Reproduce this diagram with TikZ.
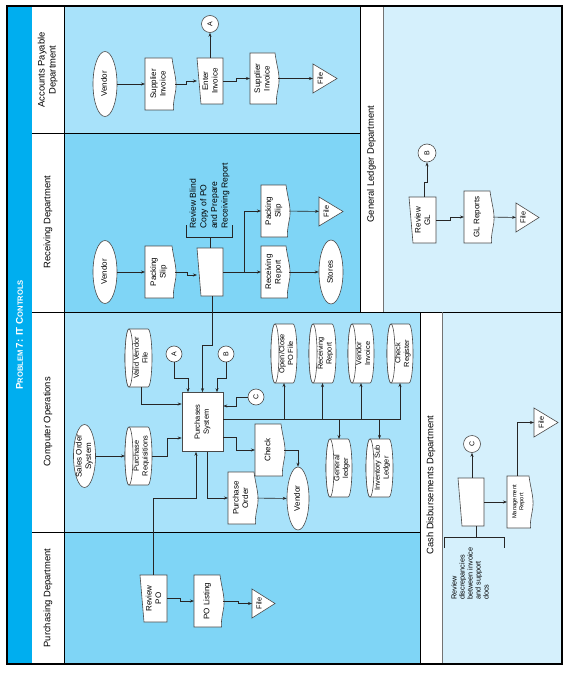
\documentclass[tikz,border=0pt]{standalone}
\usepackage{fontspec}
\setmainfont{Liberation Sans}
\usetikzlibrary{arrows.meta,calc,shapes.geometric}
\definecolor{laneA}{HTML}{A8E2FA}
\definecolor{laneB}{HTML}{7FD5F6}
\definecolor{laneC}{HTML}{D5F0FC}
\definecolor{titleC}{HTML}{00AEEF}
\definecolor{lnC}{HTML}{262626}
\definecolor{shpC}{HTML}{4A4A4A}
\newcommand\rt[1]{\rotatebox{90}{\begin{tabular}{@{}c@{}}#1\end{tabular}}}
\tikzset{
 ln/.style={draw=lnC, line width=0.6pt},
 arr/.style={ln, -{Stealth[length=4pt,width=3pt]}},
 shp/.style={draw=shpC, fill=white, line width=0.6pt},
 box/.style={rectangle, inner sep=0pt, outer sep=0pt},
 txt/.style={inner sep=0pt, font=\fontsize{8}{9.5}\selectfont, text=black},
 lanetxt/.style={inner sep=0pt, font=\fontsize{9.4}{11}\selectfont, text=black},
 border/.style={draw=black, line width=0.8pt},
 softborder/.style={draw=black!55, line width=0.8pt},
}
% [text opts]{name}{cx}{cy}{w}{h}{text}
\newcommand\ShDoc[7][]{%
 \pgfmathsetmacro\Xa{#3-#5/2}\pgfmathsetmacro\Xb{#3+#5/2}%
 \pgfmathsetmacro\Ya{#4-#6/2}\pgfmathsetmacro\Yb{#4+#6/2}%
 \path[shp] (\Xa,\Ya) -- ({\Xb-3},\Ya) .. controls ({\Xb-1},{\Ya+0.3*#6}) and ({\Xb+3},{\Ya+0.45*#6}) .. (\Xb,{\Ya+0.7*#6}) .. controls ({\Xb-1.5},{\Ya+0.85*#6}) and ({\Xb-2},{\Ya+0.95*#6}) .. ({\Xb-1.5},\Yb) -- (\Xa,\Yb) -- cycle;
 \node[box,minimum width=#5,minimum height=#6] (#2) at (#3,#4) {};
 \node[txt,#1] at ({#3-1},#4) {\rt{#7}};}
\newcommand\ShMan[7][]{%
 \pgfmathsetmacro\Xa{#3-#5/2}\pgfmathsetmacro\Xb{#3+#5/2}%
 \pgfmathsetmacro\Ya{#4-#6/2}\pgfmathsetmacro\Yb{#4+#6/2}%
 \path[shp] (\Xa,\Ya) -- (\Xb,\Ya) -- (\Xb,\Yb) -- ({\Xa+4},\Yb) -- cycle;
 \node[box,minimum width=#5,minimum height=#6] (#2) at (#3,#4) {};
 \node[txt,#1] at ({#3+1},#4) {\rt{#7}};}
\newcommand\ShCyl[7][]{%
 \pgfmathsetmacro\Xa{#3-#5/2}\pgfmathsetmacro\Xb{#3+#5/2}%
 \pgfmathsetmacro\Ya{#4-#6/2}\pgfmathsetmacro\Yb{#4+#6/2}%
 \pgfmathsetmacro\Rr{#6/2}%
 \path[shp] ({\Xa+4},\Ya) -- ({\Xb-4},\Ya) arc[start angle=-90,end angle=90,x radius=4,y radius=\Rr] -- ({\Xa+4},\Yb) arc[start angle=90,end angle=270,x radius=4,y radius=\Rr] -- cycle;
 \path[shp] ({\Xa+4},#4) ellipse[x radius=4,y radius=\Rr];
 \node[box,minimum width=#5,minimum height=#6] (#2) at (#3,#4) {};
 \node[txt,font=\fontsize{7.4}{8.6}\selectfont,#1] at ({#3+3},#4) {\rt{#7}};}
\newcommand\ShFile[5]{%
 \pgfmathsetmacro\Xa{#2-#4/2}\pgfmathsetmacro\Xb{#2+#4/2}%
 \pgfmathsetmacro\Ya{#3-#5/2}\pgfmathsetmacro\Yb{#3+#5/2}%
 \path[shp] (\Xa,\Ya) -- (\Xb,#3) -- (\Xa,\Yb) -- cycle;
 \node[box,minimum width=#4,minimum height=#5] (#1) at (#2,#3) {};
 \node[txt,font=\fontsize{7.3}{8}\selectfont] at ({\Xa+#4*0.3},#3) {\rotatebox{90}{File}};}
\newcommand\ShEll[7][]{%
 \node[ellipse,shp,inner sep=0pt,minimum width=#5,minimum height=#6] (#2) at (#3,#4) {};
 \node[txt,#1] at (#3,#4) {\rt{#7}};}
\newcommand\ShCirc[5]{%
 \node[circle,shp,inner sep=0pt,minimum size=#4] (#1) at (#2,#3) {};
 \node[txt,font=\fontsize{7}{8}\selectfont] at (#2,#3) {\rotatebox{90}{#5}};}
\begin{document}
\begin{tikzpicture}[x=1pt,y=-1pt]
\fill[white] (0,0) rectangle (568,674);
\useasboundingbox (0,0) rectangle (568,674);
% lanes
\fill[titleC] (7,6) rectangle (32,664);
\fill[white] (32,6) rectangle (64,664);
\fill[laneA] (64,6) rectangle (360,133);
\fill[laneB] (64,133) rectangle (360,312);
\fill[laneA] (64,312) rectangle (420,532);
\fill[laneB] (64,532) rectangle (420,664);
\fill[white] (360,6) rectangle (383,312);
\fill[laneC] (383,6) rectangle (562,312);
\fill[white] (420,312) rectangle (442,664);
\fill[laneC] (442,312) rectangle (562,664);
\draw[border] (32,133) -- (360,133);
\draw[border] (32,312) -- (562,312);
\draw[border] (32,532) -- (420,532);
\draw[border] (64,6) -- (64,664);
\draw[border] (360,6) -- (360,312);
\draw[softborder] (383,6) -- (383,312);
\draw[border] (420,312) -- (420,664);
\draw[softborder] (442,312) -- (442,664);
% lane titles
\node[inner sep=0pt,text=white,font=\bfseries] at (19.5,335) {\rotatebox{90}{\fontsize{9.8}{10}\selectfont P\fontsize{7.6}{8}\selectfont ROBLEM \fontsize{9.8}{10}\selectfont 7: IT C\fontsize{7.6}{8}\selectfont ONTROLS}};
\node[lanetxt] at (48,70) {\rt{Accounts Payable\\Department}};
\node[lanetxt] at (48,222) {\rotatebox{90}{Receiving Department}};
\node[lanetxt] at (48,422) {\rotatebox{90}{Computer Operations}};
\node[lanetxt] at (48,598) {\rotatebox{90}{Purchasing Department}};
\node[lanetxt] at (371.5,164) {\rotatebox{90}{General Ledger Department}};
\node[lanetxt] at (431,485) {\rotatebox{90}{Cash Disbursements Department}};
% ---- Accounts Payable
\ShEll{vendA}{105}{84}{24}{65}{Vendor}
\ShDoc{supA}{160}{84}{30}{52}{Supplier\\Invoice}
\ShMan{enter}{210}{81}{26}{46}{Enter\\Invoice}
\ShCirc{cA}{210}{24}{17}{A}
\ShDoc{supA2}{264}{78.5}{28}{51}{Supplier\\Invoice}
\ShFile{fileA}{325}{78.5}{24}{29}
% ---- Receiving
\ShEll{vendR}{105}{272}{24}{63}{Vendor}
\ShDoc{packR}{160}{272}{30}{52}{Packing\\Slip}
\ShMan{recvop}{210}{272}{26}{48}{}
\node[txt,font=\fontsize{8.6}{10.6}\selectfont,rotate=90,anchor=west,align=left] (annR) at (209.5,229) {Review Blind\\Copy of PO\\and Prepare\\Receiving Report};
\coordinate (brR) at (210,237);
\ShDoc{packR2}{275}{211}{28}{52}{Packing\\Slip}
\ShDoc{recRep}{275}{272}{28}{52}{Receiving\\Report}
\ShFile{fileR}{331}{211.5}{24}{29}
\ShEll{stores}{331}{272}{24}{64}{Stores}
% ---- Computer Operations
\ShEll{salesOrd}{84.5}{456}{22}{63}{Sales Order\\System}
\ShCyl{pr}{138.5}{456}{27}{58}{Purchase\\Requisitions}
\ShCyl{vvf}{138.5}{358}{27}{58}{Valid Vendor\\File}
\ShCirc{cA2}{174}{354}{16}{A}
\ShCirc{cB}{226}{354}{16}{B}
\node[rectangle,shp,inner sep=0pt,minimum width=41,minimum height=59] (ps) at (202.5,422) {};
\node[txt,font=\fontsize{7.5}{9}\selectfont] at (202.5,422) {\rt{Purchases\\System}};
\ShDoc{po}{242.5}{498}{29}{52}{Purchase\\Order}
\ShDoc{check}{269.5}{450}{29}{52}{Check}
\ShEll{vend2}{298}{498.5}{22}{63}{Vendor}
\ShCirc{cC}{256}{397}{16}{C}
\ShCyl{opc}{284}{353.5}{26}{59}{Open/Close\\PO File}
\ShCyl{rrc}{322.5}{353.5}{27}{59}{Receiving\\Report}
\ShCyl{vic}{361}{353.5}{26}{59}{Vendor\\Invoice}
\ShCyl{crc}{400}{353.5}{26}{59}{Check\\Register}
\ShCyl{glc}{339}{468}{26}{58}{General\\ledger}
\ShCyl{isl}{379.5}{468}{27}{58}{Inventory Sub\\Ledger}
% ---- Purchasing
\ShMan{revpo}{153.5}{598.5}{27}{47}{Review\\PO}
\ShDoc{polist}{208.5}{601}{29}{52}{PO Listing}
\ShFile{fileP}{263.5}{603.5}{23}{29}
% ---- General Ledger
\ShCirc{cB2}{427}{153}{18}{B}
\ShMan{revgl}{422.5}{220}{27}{46}{Review\\GL}
\ShDoc{glrep}{478.5}{217}{29}{52}{GL Reports}
\ShFile{fileG}{527.5}{217.5}{23}{29}
% ---- Cash Disbursements
\ShCirc{cC2}{472}{444}{17}{C}
\ShMan{cdop}{471}{502}{26}{48}{}
\ShDoc[font=\fontsize{5.8}{7}\selectfont]{mgmt}{519.5}{502}{25}{52}{Management\\Report}
\ShFile{fileCD}{546}{422.5}{24}{29}
\node[txt,font=\fontsize{7.3}{8}\selectfont,rotate=90,anchor=west,align=left] (annC) at (470,600) {Review\\discrepancies\\between invoice\\and support\\docs};
\coordinate (brC) at (476,537);
% ---- connectors AP
\draw[arr] (vendA) -- (supA);
\draw[arr] (supA.east) -- ++(11,0) |- (enter.west);
\draw[arr] (enter) -- (cA);
\draw[arr] (enter.east) -- ++(13,0) |- (supA2.west);
\draw[arr] (supA2) -- (fileA);
% ---- connectors Receiving
\draw[arr] (vendR) -- (packR);
\draw[arr] (packR.east) -- ++(12,0) |- ($(recvop.west)+(0,3)$);
\draw[arr] (recvop) -- (recRep);
\draw[arr] (recvop.east) -- ++(21,0) |- (packR2.west);
\draw[arr] (packR2) -- (fileR);
\draw[arr] (recRep) -- (stores);
\draw[ln] (recvop.north) -- (brR);
\draw[ln] ($(brR)+(-24,-12)$) |- ($(brR)+(22,0)$) -- ++(0,-12);
\draw[arr] ($(recvop.south)+(2,0)$) -- ++(0,49) -| (ps.north);
% ---- connectors Computer Operations
\draw[arr] (salesOrd) -- (pr);
\draw[arr] ($(vvf.south)+(2.5,0)$) |- ($(ps.west)+(0,-18)$);
\draw[arr] (pr.east) -- ++(15,0) |- ($(ps.west)+(0,16)$);
\draw[arr] (cA2.south) -- ++(0,16) -| ($(ps.north)+(-14.5,0)$);
\draw[arr] (cB.south) -- ++(0,16) -| ($(ps.north)+(14.5,0)$);
\draw[arr] (revpo.north) -- ++(0,-77) -| ($(ps.south)+(-6.5,0)$);
\draw[arr] ($(ps.south)+(4.5,0)$) |- (po.west);
\draw[arr] ($(ps.east)+(0,15)$) -- ++(13,0) |- (check.west);
\draw[arr] (po) -- (vend2);
\draw[arr] (check.east) -| (vend2);
\draw[arr] (cC.west) -- ++(-11,0) |- ($(ps.east)+(0,-16)$);
\coordinate (bus) at ($(ps.east)+(0,-3)$);
\draw[arr] (bus) -| (crc.south);
\foreach \c in {opc,rrc,vic} \draw[arr] (bus -| \c.south) -- (\c.south);
\foreach \c in {glc,isl} \draw[arr] (bus -| \c.north) -- (\c.north);
% ---- connectors Purchasing
\draw[arr] (revpo.east) -- ++(13,0) |- (polist.west);
\draw[arr] (polist.east) -- ++(15,0) |- (fileP.west);
% ---- connectors GL
\draw[arr] ($(revgl.north)+(1.5,0)$) -- ++(0,-15) -| (cB2);
\draw[arr] (revgl.east) -- ++(14,0) |- (glrep.west);
\draw[arr] (glrep) -- (fileG);
% ---- connectors CD
\draw[arr] ($(cdop.north)+(1,0)$) -- (cC2);
\draw[arr] (cdop) -- (mgmt);
\draw[arr] ($(mgmt.north)+(-2.5,0)$) |- (fileCD.west);
\draw[ln] ($(cdop.south)+(5,0)$) -- (brC);
\draw[ln] ($(brC)+(-32,11)$) |- ($(brC)+(28,0)$) -- ++(0,11);
% outer frame
\draw[line width=2pt] (7,6) rectangle (562,664);
\end{tikzpicture}
\end{document}
